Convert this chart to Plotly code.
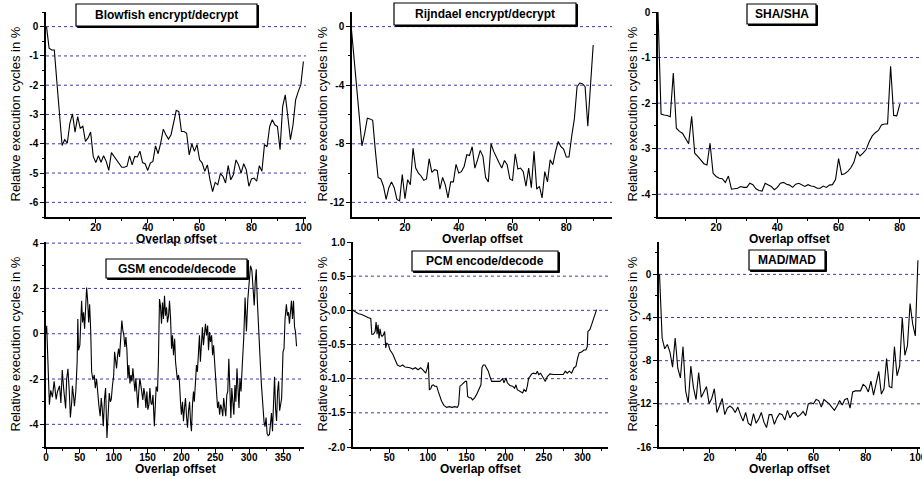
import plotly.graph_objects as go

W, H = 922, 479
FONT = "Liberation Sans, Arial, sans-serif"

# ---------------- data ----------------
blowfish_x = list(range(1, 101))
blowfish_y = [0, -0.74, -0.8, -0.8, -1.9, -3.0, -4.06, -3.86, -3.98, -3.3,
              -2.98, -3.6, -3.07, -3.47, -3.4, -3.92, -3.8, -3.6, -4.43, -4.64,
              -4.41, -4.63, -4.41, -4.6, -4.91, -4.3, -4.43, -4.52, -4.66, -4.8,
              -4.8, -4.77, -4.41, -4.72, -4.43, -4.45, -4.25, -4.64, -4.68, -4.91,
              -4.66, -4.6, -4.07, -4.34, -3.98, -3.5, -3.69, -3.84, -3.69, -3.3,
              -2.86, -2.9, -3.58, -3.58, -3.64, -4.38, -4.0, -4.26, -4.03, -4.55,
              -4.66, -4.94, -4.72, -5.23, -5.63, -5.32, -5.4, -5.02, -5.11, -5.34,
              -4.74, -5.23, -5.06, -4.55, -4.72, -5.0, -4.68, -4.89, -5.45, -5.2,
              -5.17, -5.28, -4.75, -4.94, -4.03, -4.1, -3.41, -3.18, -3.35, -3.41,
              -4.2, -2.73, -2.33, -3.07, -3.86, -3.35, -2.5, -2.22, -1.99, -1.19]

rijndael_x = list(range(0, 91))
rijndael_y = [0, -2.0, -4.1, -6.2, -8.14, -7.3, -6.25, -6.3, -6.4, -8.5,
              -10.3, -10.4, -10.9, -11.8, -11.0, -10.6, -11.0, -11.8, -11.9, -10.1,
              -11.75, -10.45, -10.8, -8.3, -9.66, -10.0, -10.2, -10.5, -10.4, -9.02,
              -9.95, -9.77, -9.82, -11.1, -10.3, -10.8, -11.7, -10.6, -10.6, -9.4,
              -10.0, -9.9, -9.55, -8.75, -8.8, -8.2, -9.66, -9.1, -8.45, -8.86,
              -10.3, -10.6, -8.0, -8.52, -8.86, -9.3, -9.66, -9.14, -9.43, -10.4,
              -10.5, -8.68, -9.73, -9.66, -9.9, -10.9, -9.66, -11.0, -8.52, -11.1,
              -10.9, -11.7, -9.9, -10.6, -9.1, -9.43, -8.52, -7.84, -8.2, -8.36,
              -8.9, -8.9, -7.5, -6.3, -4.1, -3.85, -3.9, -4.1, -6.8, -4.0,
              -1.25]

sha_x = list(range(1, 81))
sha_y = [0, -2.24, -2.26, -2.27, -2.3, -1.34, -2.55, -2.62, -2.66, -2.77,
         -2.89, -2.29, -3.1, -3.17, -3.26, -3.33, -3.36, -2.88, -3.54, -3.61,
         -3.65, -3.66, -3.74, -3.6, -3.89, -3.88, -3.87, -3.83, -3.85, -3.85,
         -3.76, -3.79, -3.88, -3.92, -3.93, -3.76, -3.79, -3.83, -3.9, -3.85,
         -3.76, -3.74, -3.78, -3.8, -3.85, -3.78, -3.76, -3.8, -3.83, -3.79,
         -3.82, -3.83, -3.87, -3.87, -3.82, -3.85, -3.8, -3.79, -3.68, -3.22,
         -3.57, -3.55, -3.5, -3.42, -3.3, -3.06, -3.16, -3.1, -3.02, -2.85,
         -2.72, -2.65, -2.6, -2.48, -2.46, -2.46, -1.19, -2.27, -2.28, -2.02]

gsm_x = [0, 1, 2, 3, 5, 7, 9.5, 12, 15, 17, 20, 22, 24, 26, 27.5, 29, 30.5, 32.4, 34.4, 36,
         38, 39, 41, 42, 44, 46, 47, 48, 50, 51, 52.6, 54, 55.5, 57, 58.5, 60, 61.5, 63, 64.4, 66,
         67.4, 69.3, 71.3, 72.8, 74.7, 76, 78, 80, 81.6, 83, 84.6, 86.5, 88, 90, 92, 93.4, 95, 96.4, 98, 100,
         101.3, 102.8, 104.2, 105.7, 107.2, 108.6, 110, 112, 113.5, 115, 116.5, 118, 119.5, 121, 122.4, 124,
         125.4, 126.8, 128.3, 129.8, 131.3, 132.7, 134, 135.7, 137, 138.6, 140, 141.6, 143, 144.5, 146,
         147.5, 149, 150.4, 152, 153.4, 155, 156.4, 158, 160, 161.2, 162.7, 164.7, 166, 167.6, 169, 170.6,
         172, 173.5, 175, 176.5, 178, 179.4, 181, 182.4, 184, 185.4, 186.8, 188.3, 190, 191.3, 192.7, 194,
         195.7, 197, 198.6, 200, 201.6, 203, 204.5, 206, 207.5, 209, 210.4, 212, 213.4, 214.8, 216.3, 217.8,
         219, 220.7, 222.2, 223.6, 225, 226.6, 228, 229.6, 231, 232.5, 234, 235.5, 237, 238.7, 240, 241.6,
         243, 244.6, 246, 247.5, 249, 250.4, 252, 253.4, 255, 256.4, 258, 259.4, 261, 262.4, 264, 265.5,
         267, 268.4, 270, 271.4, 273, 274.4, 276, 277.4, 279, 280.4, 282, 283.4, 285, 286.4, 288,
         290, 292, 294, 296, 298, 300, 302, 304, 306, 307.5, 309, 310.5, 312, 314, 316, 318, 320, 322,
         323.5, 325, 326.5, 328, 330, 331.5, 333, 334.5, 336, 337.5, 339, 340.5, 342, 343.5, 345, 346.5,
         348, 350, 351.5, 353, 355, 356.5, 358, 359.5, 361, 362.5, 364, 365.5, 367, 368.5, 370]
gsm_y = [0.0, 0.35, -0.5, -1.6, -3.13, -2.5, -2.8, -2.1, -2.9, -2.55, -2.3, -3.06, -1.6, -2.4, -3.0, -3.3, -2.0, -1.55, -2.55, -3.7,
         -3.0, -2.3, -2.85, -3.2, -2.55, -1.25, 0.65, -0.73, -0.5, 0.65, 1.46, 0.5, 0.95, 0.22, 1.0, 2.04, 1.46, 0.5, 1.3, 0.15,
         -1.68, -2.04, -1.82, -2.4, -2.0, -2.55, -3.13, -3.64, -2.84, -3.28, -4.08, -2.84, -2.4, -4.6, -3.57, -2.62, -3.0, -2.9, -2.33, -1.82,
         -0.8, -1.24, -1.53, -0.95, -0.66, -1.02, -0.07, 0.58, 0.15, -0.07, -0.58, -0.15, -0.73, -1.97, -1.38, -2.19,
         -1.82, -2.11, -1.53, -2.11, -2.55, -1.97, -2.55, -3.28, -2.55, -1.97, -2.26, -2.55, -2.92, -2.4, -2.7,
         -3.28, -2.55, -3.35, -3.13, -2.4, -3.06, -3.13, -2.7, -4.08, -3.0, -2.33, -2.55, -1.24, 1.53, 1.24, 0.44,
         1.38, 0.65, 1.68, 0.8, 1.17, 0.5, 0.8, 1.46, 0.65, -0.66, -0.07, -0.95, -0.22, -1.24, -1.68, -2.04,
         -1.82, -2.11, -3.0, -3.57, -3.0, -3.86, -3.28, -2.84, -3.64, -4.15, -3.42, -3.0, -3.86, -4.3, -3.13, -2.55,
         -3.0, -2.11, -1.38, -1.68, -0.66, -0.07, -1.24, -0.36, 0.29, -0.51, 0.22, 0.44, -0.07, 0.36, -0.73, 0.07,
         -0.36, -0.07, -0.95, -0.51, -1.24, -1.82, -2.55, -3.28, -3.0, -3.57, -3.13, -3.28, -3.64, -2.84, -3.28, -3.64,
         -2.7, -2.55, -1.1, -3.0, -3.72, -2.4, -3.0, -3.57, -2.26, -3.0, -1.53, -2.7, -3.28, -1.97, -2.55,
         -1.3, -0.2, 1.6, 0.1, 1.5, 2.2, 3.0, 2.8, 1.7, 1.25, 2.3, 2.85, 1.5, 0.5, -1.0, -2.2, -3.2, -3.9,
         -4.1, -3.7, -4.4, -4.5, -4.45, -4.0, -3.5, -4.3, -2.7, -1.9, -3.3, -3.85, -2.55, -2.1, -3.4, -3.0,
         -2.85, -0.8, -0.66, 0.65, 1.3, 0.8, 0.95, 0.44, 1.17, 1.46, 0.65, 1.46, 0.3, 0.07, -0.55]

pcm_x = [2.7, 5.7, 10, 14.3, 18.6, 23, 26, 27.3, 29.4, 31.6, 32.9, 34.2, 35.4, 36.7, 38, 39.3, 40.6, 42.3,
         44, 45.4, 46.6, 48.8, 50.9, 54.4, 57.4, 60.5, 63.9, 67.4, 70.4, 73.4, 76.8, 80.3, 83.7, 87.2, 90.6,
         94, 97.1, 99.2, 100.5, 101.8, 103.5, 105.2, 107, 108.6, 111.3, 113.4, 115.6, 117.7, 120.7, 124.1,
         127.6, 131, 134.6, 138, 139.7, 141.4, 143.5, 145.7, 148.3, 150, 151.4, 153.5, 155.7, 157.8, 160.4,
         163, 165.6, 167.3, 168.6, 169.9, 171.6, 173.8, 175.9, 178.1, 180.2, 182.4, 184.5, 188.9, 193.2,
         196.6, 198.4, 201, 202.7, 206.1, 209.6, 212.2, 213.9, 215.6, 219.1, 222.5, 224.3, 226.8, 228.6,
         230.3, 232, 234.2, 236.3, 239.8, 241.5, 243.3, 245.8, 248.4, 250.2, 251.9, 254.5, 257.9, 262.2,
         266.6, 270.8, 275.1, 277.7, 280.3, 282.9, 285.9, 289, 291.5, 293.7, 295.8, 298.8, 301.9, 304.4,
         306.2, 307, 309.6, 311.8, 313.9, 316.1, 318.2]
pcm_y = [0.0, -0.02, -0.05, -0.06, -0.09, -0.11, -0.12, -0.35, -0.35, -0.31, -0.17, -0.35, -0.21, -0.41, -0.27, -0.36, -0.38, -0.36,
         -0.31, -0.55, -0.48, -0.5, -0.58, -0.64, -0.72, -0.8, -0.82, -0.8, -0.83, -0.83, -0.84, -0.86, -0.84, -0.87, -0.84,
         -0.88, -0.92, -0.84, -0.76, -1.16, -1.15, -1.1, -1.09, -1.11, -1.11, -1.19, -1.26, -1.33, -1.39, -1.42,
         -1.41, -1.42, -1.41, -1.42, -1.38, -1.11, -1.09, -1.06, -1.04, -1.04, -1.26, -1.28, -1.28, -1.31, -1.28,
         -1.23, -1.16, -1.11, -1.09, -0.84, -0.8, -0.8, -0.84, -0.89, -0.97, -1.04, -1.04, -1.04, -1.04,
         -1.0, -1.06, -0.99, -1.06, -1.1, -1.11, -1.14, -1.09, -1.16, -1.18, -1.21, -1.16, -1.19, -1.11,
         -0.99, -0.97, -0.93, -0.92, -0.93, -0.89, -0.94, -0.92, -0.97, -0.99, -1.04, -0.97, -0.93, -0.94,
         -0.94, -0.93, -0.94, -0.89, -0.92, -0.89, -0.92, -0.84, -0.82, -0.7, -0.62, -0.61, -0.58, -0.58,
         -0.53, -0.31, -0.28, -0.21, -0.14, -0.06, 0.01]

mad_x = list(range(1, 101))
mad_y = [0, -5.9, -6.9, -6.5, -7.2, -8.6, -5.9, -8.7, -9.6, -6.7,
         -10.8, -11.9, -8.5, -10.5, -11.6, -9.1, -11.4, -10.9, -10.4, -12.0,
         -11.5, -10.6, -12.8, -12.2, -11.5, -13.0, -12.4, -12.2, -12.4, -12.8,
         -12.3, -13.0, -13.6, -12.8, -13.8, -14.0, -12.9, -13.8, -13.4, -12.8,
         -13.7, -14.2, -13.0, -13.0, -13.9, -13.3, -12.9, -13.0, -13.5, -12.6,
         -13.3, -12.9, -12.8, -13.2, -13.0, -12.7, -13.1, -12.0, -11.9, -12.0,
         -11.6, -11.7, -12.3, -11.6, -11.8, -12.0, -12.3, -12.6, -12.2, -11.7,
         -12.1, -11.6, -11.5, -12.4, -10.9, -10.8, -10.8, -10.8, -10.2, -10.4,
         -10.9, -9.9, -11.2, -10.2, -9.0, -11.1, -10.6, -7.8, -10.4, -10.5,
         -6.7, -9.4, -8.5, -4.0, -7.5, -6.6, -2.7, -4.6, -5.7, 1.3]

titles = ["Blowfish encrypt/decrypt", "Rijndael encrypt/decrypt", "SHA/SHA",
          "GSM encode/decode", "PCM encode/decode", "MAD/MAD"]
y_title = "Relative execution cycles in %"
x_title = "Overlap offset"

# ---------------- layout description (pixels) ----------------
panels = [
    dict(x=blowfish_x, y=blowfish_y, px=(46, 306), py=(12, 217), xr=[0.8, 101], yr=[-6.5, 0.5],
         xd=20, xm=10, yd=1, ym=0.5, ydec=0, box=(76, 257, 4, 26), ytx=15),
    dict(x=rijndael_x, y=rijndael_y, px=(352, 612), py=(12, 217), xr=[0.3, 97], yr=[-13, 1],
         xd=20, xm=10, yd=4, ym=2, ydec=0, box=(394, 576, 3, 25), ytx=322),
    dict(x=sha_x, y=sha_y, px=(658, 920), py=(12, 217), xr=[1, 86.6], yr=[-4.5, 0],
         xd=20, xm=10, yd=1, ym=0.5, ydec=0, box=(747, 816, 4, 24), ytx=632),
    dict(x=gsm_x, y=gsm_y, px=(46, 304), py=(242, 447), xr=[0, 381], yr=[-5, 4.05],
         xd=50, xm=25, yd=2, ym=1, ydec=0, box=(106, 247, 259, 278), ytx=15),
    dict(x=pcm_x, y=pcm_y, px=(353, 608), py=(242, 447), xr=[3, 333], yr=[-2, 1],
         xd=50, xm=25, yd=0.5, ym=0.25, ydec=1, box=(412, 558, 251, 271), ytx=322),
    dict(x=mad_x, y=mad_y, px=(659, 920), py=(242, 447), xr=[0.8, 100.8], yr=[-16, 3],
         xd=20, xm=10, yd=4, ym=2, ydec=0, box=(749, 825, 250, 270), ytx=632),
]


def fx(p):
    return p / W


def fy(p):
    return 1 - p / H


def major_ticks(lo, hi, step):
    vals = []
    k = int(lo // step) - 1
    while k * step <= hi + 1e-9:
        v = round(k * step, 6)
        if lo - 1e-9 <= v <= hi + 1e-9:
            vals.append(v)
        k += 1
    return vals


fig = go.Figure()
shapes = []
annotations = []
tickfont = dict(family=FONT, size=10, color="black", weight="bold")

for i, p in enumerate(panels):
    n = i + 1
    xa = "x" if n == 1 else f"x{n}"
    ya = "y" if n == 1 else f"y{n}"
    fig.add_trace(go.Scatter(x=p["x"], y=p["y"], mode="lines",
                             line=dict(color="black", width=1.1),
                             xaxis=xa, yaxis=ya, showlegend=False, hoverinfo="skip"))
    fig.layout[f"xaxis{n}"] = dict(
        domain=[fx(p["px"][0]), fx(p["px"][1])], anchor=ya, range=p["xr"],
        automargin=False, ticklabeloverflow="allow", ticklabelstandoff=-4,
        showline=True, linecolor="black", linewidth=1.5, mirror=False,
        ticks="outside", ticklen=4, tickwidth=1, tickcolor="black",
        tick0=0, dtick=p["xd"], showgrid=False, zeroline=False,
        minor=dict(dtick=p["xm"], tick0=0, ticks="outside", ticklen=2, tickcolor="black", showgrid=False),
        tickfont=tickfont,
    )
    yt = major_ticks(p["yr"][0], p["yr"][1], p["yd"])
    ytext = [f"{v:.{p['ydec']}f}".replace("-0.0", "0.0") if v == 0 else f"{v:.{p['ydec']}f}" for v in yt]
    fig.layout[f"yaxis{n}"] = dict(
        domain=[fy(p["py"][1]), fy(p["py"][0])], anchor=xa, range=p["yr"],
        automargin=False, ticklabeloverflow="allow",
        showline=True, linecolor="black", linewidth=1.5, mirror=False,
        ticks="outside", ticklen=4, tickwidth=1, tickcolor="black",
        tickmode="array", tickvals=yt, ticktext=ytext,
        showgrid=False, zeroline=False,
        minor=dict(dtick=p["ym"], tick0=0, ticks="outside", ticklen=2, tickcolor="black", showgrid=False),
        tickfont=tickfont,
    )
    # dotted horizontal grid lines at interior major ticks
    lo, hi = p["yr"]
    for v in yt:
        if lo + 1e-6 < v < hi - 1e-6:
            shapes.append(dict(type="line", xref=f"{xa} domain", yref=ya, x0=0, x1=1, y0=v, y1=v,
                               line=dict(color="#3a3ab4", width=1, dash="dot"), layer="below"))
    # title boxes (with a thin drop shadow)
    bx0, bx1, by0, by1 = p["box"]
    shapes.append(dict(type="rect", xref="paper", yref="paper",
                       x0=fx(bx0 + 1.5), x1=fx(bx1 + 1.5), y0=fy(by1 + 1.5), y1=fy(by0 + 1.5),
                       line=dict(color="black", width=1), fillcolor="black", layer="above"))
    shapes.append(dict(type="rect", xref="paper", yref="paper",
                       x0=fx(bx0), x1=fx(bx1), y0=fy(by1), y1=fy(by0),
                       line=dict(color="black", width=1.2), fillcolor="white", layer="above"))
    annotations.append(dict(text=titles[i], xref="paper", yref="paper",
                            x=fx((bx0 + bx1) / 2), y=fy((by0 + by1) / 2),
                            xanchor="center", yanchor="middle", showarrow=False,
                            font=dict(family=FONT, size=12, color="black", weight="bold")))
    # axis titles
    annotations.append(dict(text=y_title, xref="paper", yref="paper", textangle=-90,
                            x=fx(p["ytx"]), y=fy((p["py"][0] + p["py"][1]) / 2),
                            xanchor="center", yanchor="middle", showarrow=False,
                            font=dict(family=FONT, size=13, color="black")))
    annotations.append(dict(text=x_title, xref="paper", yref="paper",
                            x=fx((p["px"][0] + p["px"][1]) / 2), y=fy(p["py"][1] + 22),
                            xanchor="center", yanchor="middle", showarrow=False,
                            font=dict(family=FONT, size=12, color="black", weight="bold")))

fig.update_layout(width=W, height=H, margin=dict(l=0, r=0, t=0, b=0, pad=0, autoexpand=False),
                  paper_bgcolor="white", plot_bgcolor="white",
                  shapes=shapes, annotations=annotations, showlegend=False)
fig.write_html("out.html", config={"displayModeBar": False},
               post_script="document.body.style.margin='0px';document.body.style.overflow='hidden';")
